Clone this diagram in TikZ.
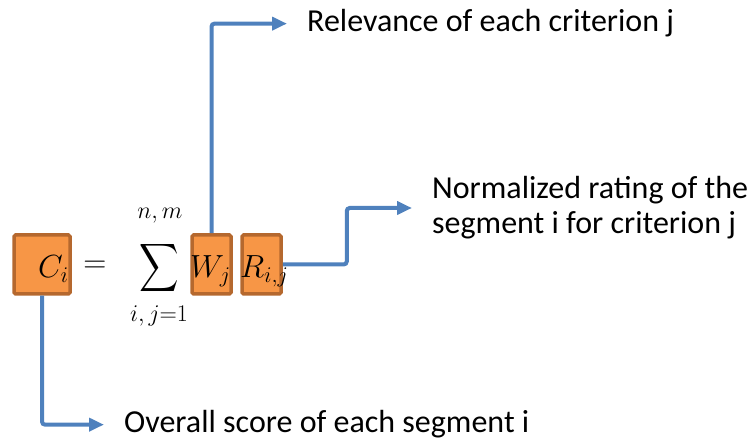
\RequirePackage{fix-cm}
\documentclass[tikz,border=0pt]{standalone}
\usepackage{exscale}
\usepackage{fontspec}
\setmainfont{Carlito}
\usetikzlibrary{arrows.meta}
\definecolor{boxfill}{HTML}{F79646}
\definecolor{boxedge}{HTML}{B5682E}
\definecolor{linkblue}{HTML}{4F81BD}
\begin{document}
\begin{tikzpicture}[x=1pt,y=-1pt,
  box/.style={draw=boxedge, fill=boxfill, line width=3.5pt, rounded corners=1.5pt,
    minimum width=#1, minimum height=59pt, inner sep=0pt},
  link/.style={draw=linkblue, line width=4pt, rounded corners=3pt, shorten >=20pt,
    -{Triangle[length=15pt,width=13pt]}},
  lbl/.style={font=\fontsize{32}{35}\selectfont, inner sep=0pt, align=left},
  mth/.style={inner sep=0pt, font=\fontsize{32}{38}\selectfont},
  lim/.style={inner sep=0pt, font=\fontsize{24}{28}\selectfont}]
\useasboundingbox (0,0) rectangle (748,443);

% highlighted terms of the formula
\node[box=56pt] (Cbox) at (42,264.5) {};
\node[box=39pt] (Wbox) at (211.5,264.5) {};
\node[box=39pt] (Rbox) at (261.5,264.5) {};

% the formula
\node[mth, anchor=base west] (C) at (38,278) {$C_i$};
\node[mth] (eq) at (95,267) {$=$};
\node[mth, font=\fontsize{36}{44}\selectfont] (sum) at (159.5,268)
  {\scalebox{1.1}[1.35]{$\displaystyle\sum$}};
\node[lim, anchor=base] (top) at (160,219) {$n,m$};
\node[lim, anchor=base] (bot) at (159,322) {$i,j{=}1$};
\node[mth, anchor=base west] (W) at (190,278) {$W_j$};
\node[mth, anchor=base west] (R) at (240,278) {$R_{i,j}$};

% explanations
\node[lbl, anchor=base west] (rel) at (307,32) {Relevance of each criterion j};
\node[lbl, anchor=west] (norm) at (432,208) {Normalized rating of the\\segment i for criterion j};
\node[lbl, anchor=base west] (overall) at (124,433) {Overall score of each segment i};

% connectors
\draw[link] (Wbox.north) |- (rel.west);
\draw[link] (Rbox.east) -- ++(64,0) |- (norm.west);
\draw[link] (Cbox.south) |- (overall.west);
\end{tikzpicture}
\end{document}
